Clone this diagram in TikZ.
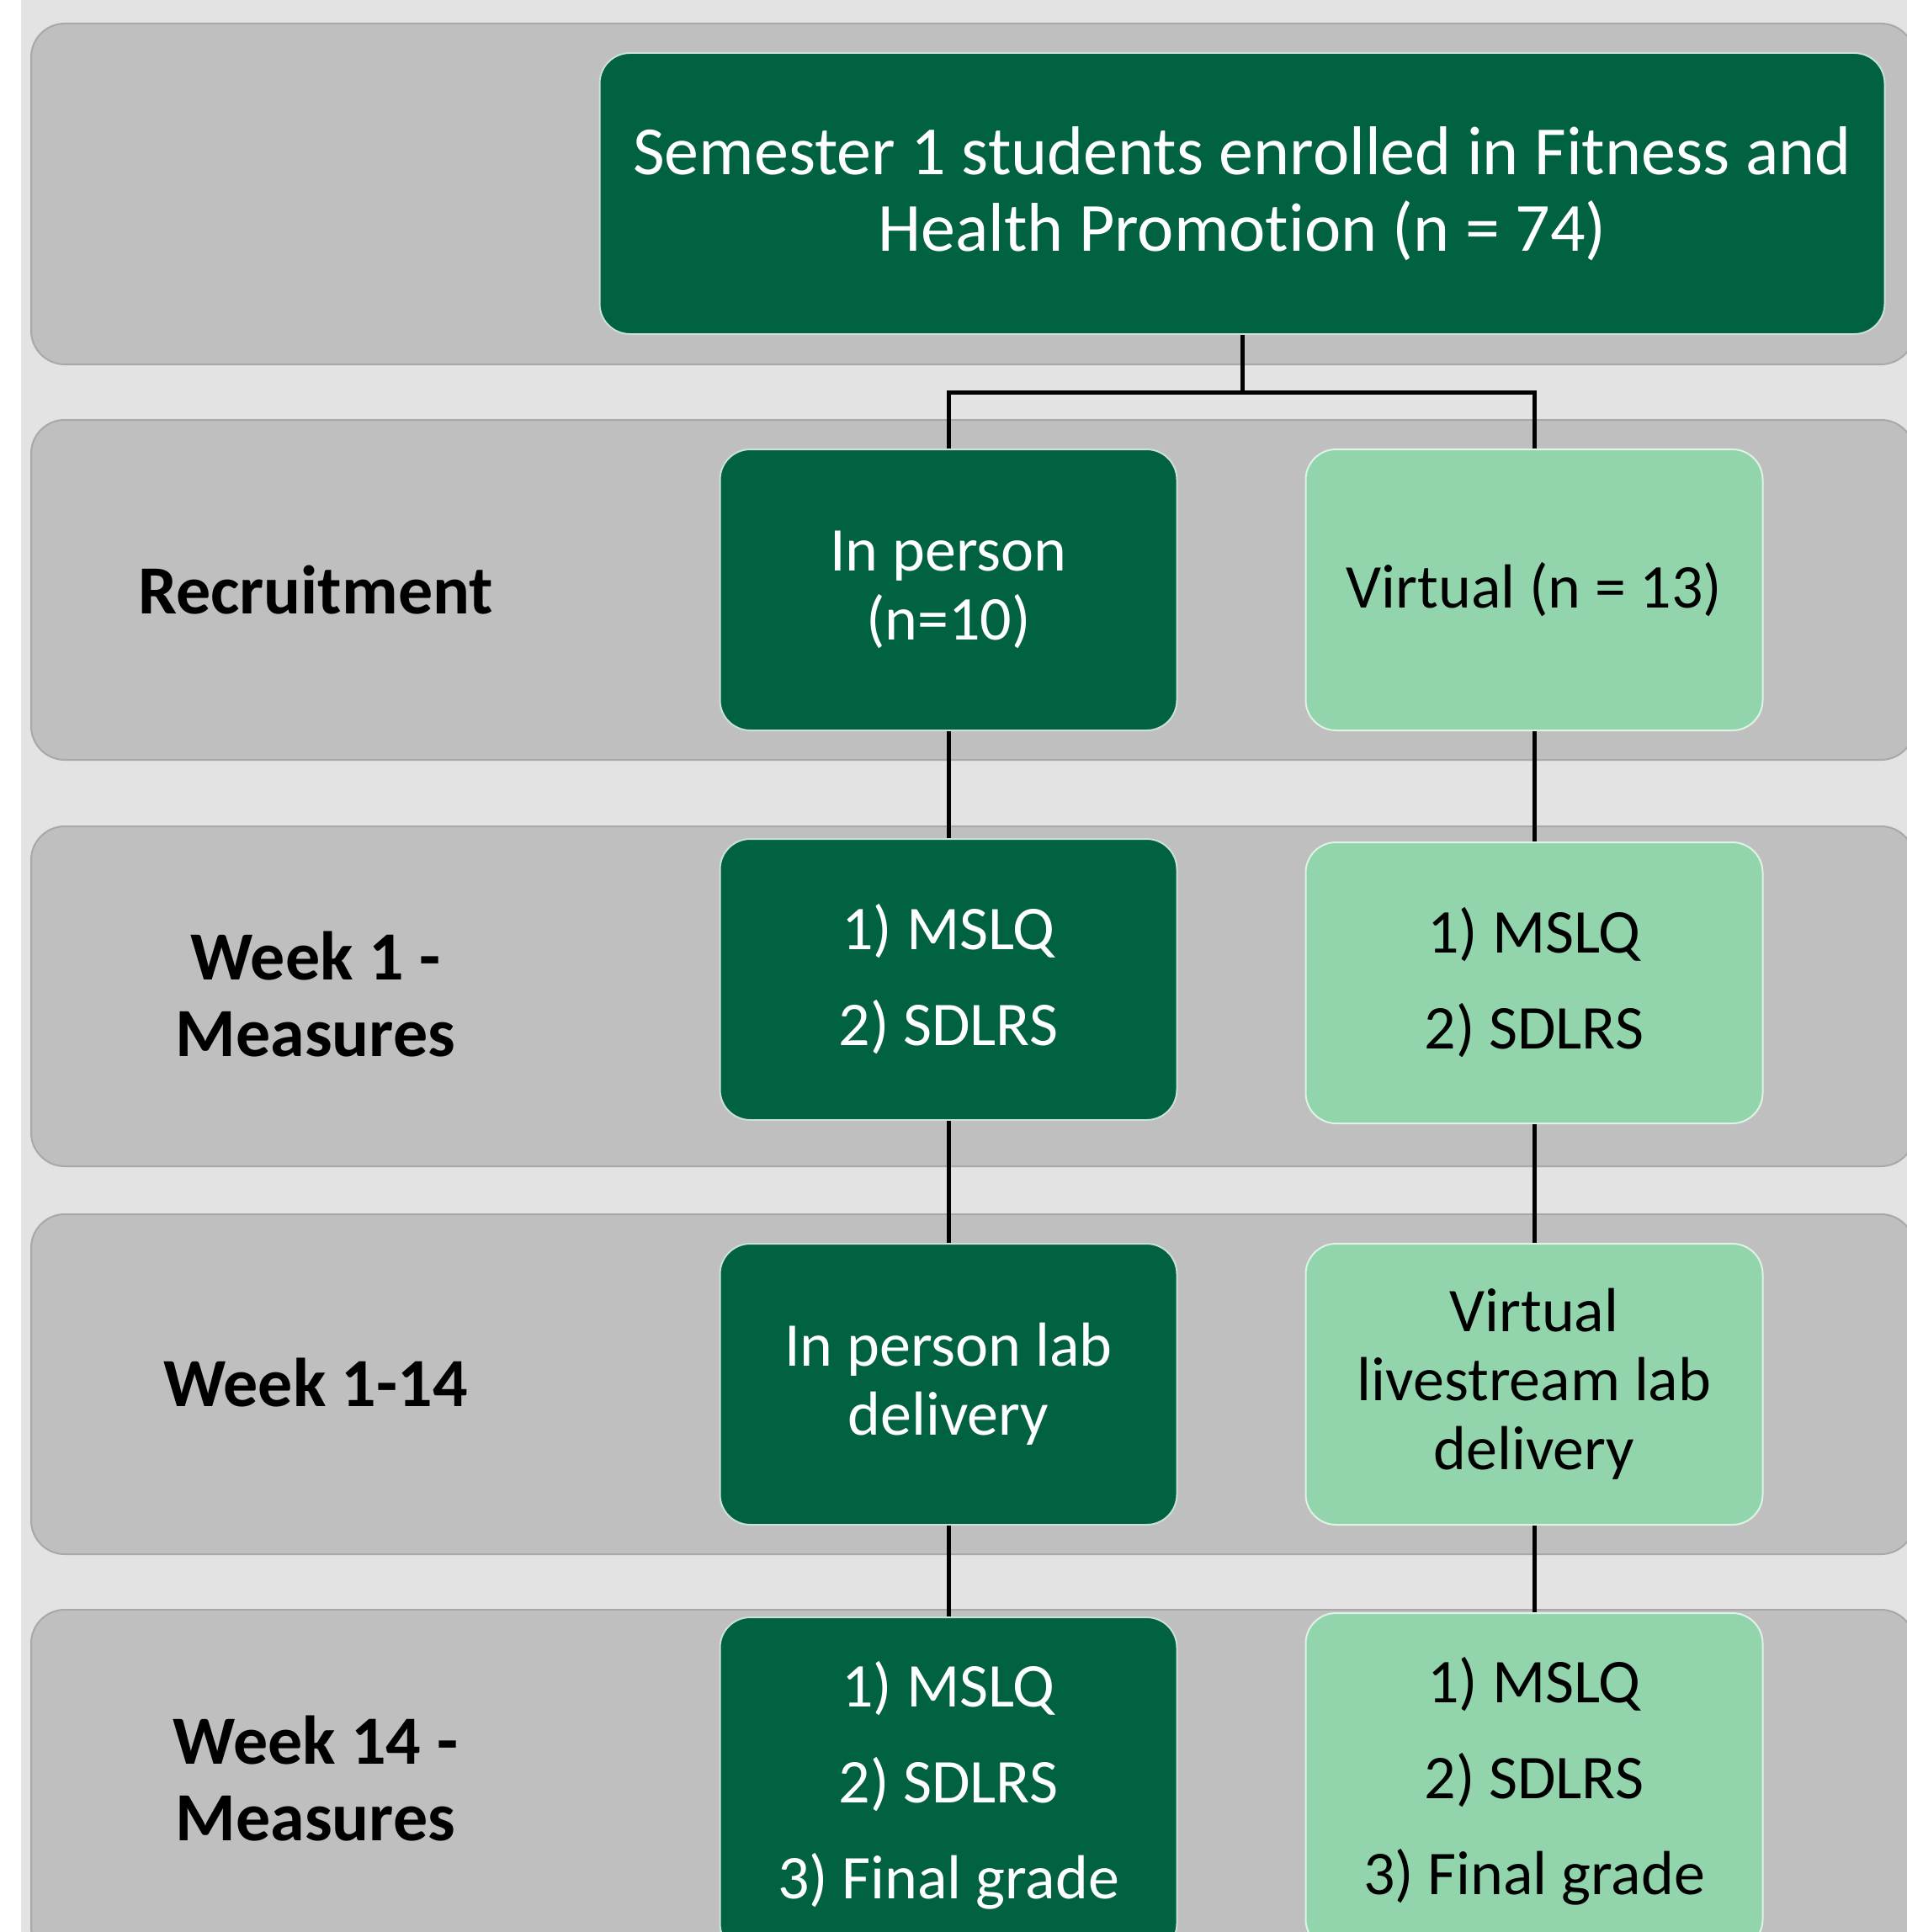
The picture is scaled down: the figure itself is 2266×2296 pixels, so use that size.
\documentclass[tikz,border=0pt]{standalone}
\usepackage{fontspec}
\setmainfont[Ligatures=NoCommon]{Carlito}
\usetikzlibrary{positioning}

\definecolor{darkgreen}{RGB}{0,98,65}
\definecolor{lightgreen}{RGB}{146,213,172}
\definecolor{bandgray}{RGB}{191,191,191}
\definecolor{pagegray}{RGB}{227,227,227}
\definecolor{bandedge}{RGB}{168,168,168}

\tikzset{
  band/.style={fill=bandgray, draw=bandedge, line width=2pt, rounded corners=40pt},
  darkbox/.style={rectangle, rounded corners=36pt, fill=darkgreen, draw=white!80!darkgreen,
    line width=2pt, text=white, minimum width=543pt, minimum height=334pt, align=center,
    inner sep=0pt, font=\fontsize{74}{82}\selectfont},
  lightbox/.style={darkbox, fill=lightgreen, text=black, draw=white!70!lightgreen},
  rowlabel/.style={align=center, font=\fontsize{82}{91}\selectfont\bfseries},
  link/.style={draw=black, line width=5pt}
}

\begin{document}
\begin{tikzpicture}[x=1pt,y=-1pt]
    \useasboundingbox (0,0) rectangle (2266,2296);
    \fill[pagegray] (25,0) rectangle (2266,2296);

    % bands
    \draw[band] (37,28) rectangle (2275,433);
    \draw[band] (37,499) rectangle (2275,903);
    \draw[band] (37,982) rectangle (2275,1386);
    \draw[band] (37,1443) rectangle (2275,1847);
    \draw[band] (37,1913) rectangle (2275,2330);

    % row labels
    \node[rowlabel] (recruit) at (375,701) {Recruitment};
    \node[rowlabel] (weekone) at (375,1182) {Week 1 -\\Measures};
    \node[rowlabel] (weeks) at (375,1643) {Week 1-14};
    \node[rowlabel] (weekend) at (375,2114) {Week 14 -\\Measures};

    % boxes
    \node[darkbox, minimum width=1527pt, font=\fontsize{82}{91}\selectfont] (cohort) at (1476,230)
        {Semester 1 students enrolled in Fitness and\\Health Promotion (n = 74)};

    \node[darkbox] (inperson) at (1127,701) {In person\\(n=10)};
    \node[lightbox] (virtual) at (1823,701) {Virtual (n = 13)};

    \node[darkbox] (inpre) at (1127,1164) {1) MSLQ\\[32pt]2) SDLRS};
    \node[lightbox] (virtpre) at (1823,1168) {1) MSLQ\\[32pt]2) SDLRS};

    \node[darkbox] (inlab) at (1127,1645) {In person lab\\delivery};
    \node[lightbox] (virtlab) at (1823,1645) {Virtual\\livestream lab\\delivery};

    \node[darkbox, minimum height=400pt] (inpost) at (1127,2122)
        {1) MSLQ\\[32pt]2) SDLRS\\[32pt]3) Final grade};
    \node[lightbox, minimum height=400pt] (virtpost) at (1823,2117)
        {1) MSLQ\\[32pt]2) SDLRS\\[32pt]3) Final grade};

    % connectors
    \coordinate (split) at (1476,466);
    \draw[link] (cohort.south) -- (split) -| (inperson.north);
    \draw[link] (split) -| (virtual.north);
    \draw[link] (inperson.south) -- (inpre.north);
    \draw[link] (virtual.south) -- (virtpre.north);
    \draw[link] (inpre.south) -- (inlab.north);
    \draw[link] (virtpre.south) -- (virtlab.north);
    \draw[link] (inlab.south) -- (inpost.north);
    \draw[link] (virtlab.south) -- (virtpost.north);
\end{tikzpicture}
\end{document}
